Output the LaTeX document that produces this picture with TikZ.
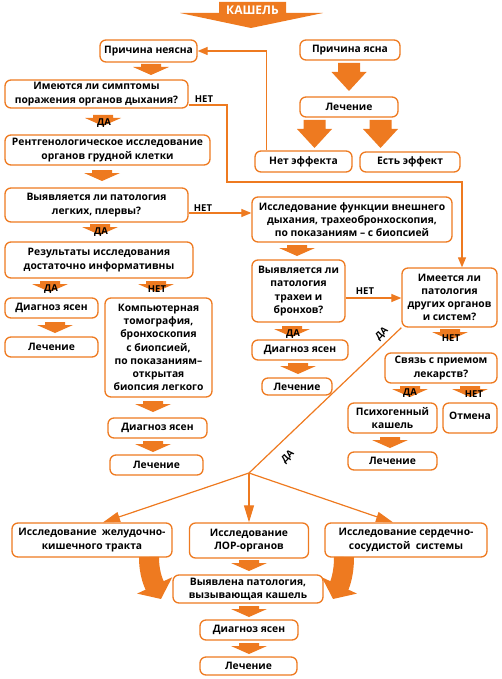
\documentclass[tikz,border=0pt]{standalone}
\usepackage{fontspec}
\setmainfont{Open Sans}
\usetikzlibrary{arrows.meta}

\definecolor{kashorange}{RGB}{238,122,32}
\tikzset{
  box/.style={draw=kashorange, line width=1.3pt, rounded corners=6pt, fill=white, align=center, inner sep=0pt, font=\bfseries\fontsize{10.3}{13.2}\selectfont},
  conn/.style={draw=kashorange, line width=1.2pt, -{Triangle[length=10pt,width=8pt]}},
  bigconn/.style={draw=kashorange, line width=1.2pt, -{Triangle[length=17pt,width=10pt]}},
  plain/.style={draw=kashorange, line width=1.2pt},
  lbl/.style={font=\bfseries\fontsize{9.5}{11}\selectfont, inner sep=0pt},
  curvarr/.style={draw=kashorange, line width=20pt, -{Triangle[length=15pt,width=38pt]}},
}
% short orange arrows between boxes
\newcommand{\smallarr}[2]{\fill[kashorange] (#1-10,#2) -- (#1+10,#2) -- (#1+10,#2+3) -- (#1+18,#2+3) -- (#1,#2+11) -- (#1-18,#2+3) -- (#1-10,#2+3) -- cycle;}
\newcommand{\bigarr}[2]{\fill[kashorange] (#1-11,#2) -- (#1+11,#2) -- (#1+11,#2+9) -- (#1+17.5,#2+9) -- (#1,#2+28) -- (#1-17.5,#2+9) -- (#1-11,#2+9) -- cycle;}

\begin{document}
\begin{tikzpicture}[x=1pt,y=-1pt]
\useasboundingbox (0,0) rectangle (501,679);

% title
\fill[kashorange] (180,13) -- (219,13) -- (219,2) -- (286,2) -- (286,13) -- (323,13) -- (251,28) -- cycle;
\node[font=\bfseries\fontsize{12}{14}\selectfont, text=white, inner sep=0pt] (kashel) at (252.5,10) {КАШЕЛЬ};

% top part
\node[box, minimum width=97, minimum height=22] (neyasna) at (148.5,51) {Причина неясна};
\node[box, minimum width=100, minimum height=20] (yasna) at (350,50) {Причина ясна};
\node[box, minimum width=98, minimum height=20] (lech0) at (349,107) {Лечение};
\node[box, minimum width=97, minimum height=21] (neteff) at (303.5,161.5) {Нет эффекта};
\node[box, minimum width=100, minimum height=20] (esteff) at (410,162) {Есть эффект};
\bigarr{349}{63}
\bigarr{314.5}{120}
\bigarr{380.5}{120}

% left column
\node[box, minimum width=183, minimum height=28] (simpt) at (96.5,94) {Имеются ли симптомы\\поражения органов дыхания?};
\node[box, minimum width=205, minimum height=30] (rentg) at (107.5,150) {Рентгенологическое исследование\\органов грудной клетки};
\node[box, minimum width=183, minimum height=34] (legk) at (96.5,205) {Выявляется ли патология\\легких, плервы?};
\node[box, minimum width=188, minimum height=36] (rezult) at (99,260) {Результаты исследования\\достаточно информативны};
\node[box, minimum width=93, minimum height=20] (diag1) at (51.5,308) {Диагноз ясен};
\node[box, minimum width=93, minimum height=20] (lech1) at (51.5,347) {Лечение};
\node[box, minimum width=107, minimum height=99] (kt) at (158.5,347.5) {Компьютерная\\томография,\\бронхоскопия\\с биопсией,\\по показаниям–\\открытая\\биопсия легкого};
\node[box, minimum width=99, minimum height=20] (diag2) at (157.5,428) {Диагноз ясен};
\node[box, minimum width=93, minimum height=20] (lech2) at (156.5,465) {Лечение};
\smallarr{151}{64}
\smallarr{103}{115}
\node[lbl] (da1) at (104,123) {ДА};
\smallarr{102}{170}
\smallarr{100}{224}
\node[lbl] (da2) at (101,232) {ДА};
\smallarr{50}{281}
\node[lbl] (da3) at (51,289) {ДА};
\smallarr{156}{281}
\node[lbl] (net3) at (157,289) {НЕТ};
\smallarr{55}{322}
\smallarr{153}{401}
\smallarr{153}{441}

% middle column
\node[box, minimum width=200, minimum height=45] (fvd) at (352,219.5) {Исследование функции внешнего\\дыхания, трахеобронхоскопия,\\по показаниям – с биопсией};
\node[box, minimum width=93, minimum height=62] (trah) at (298.5,291) {Выявляется ли\\патология\\трахеи и\\бронхов?};
\node[box, minimum width=96, minimum height=20] (diag3) at (300,350) {Диагноз ясен};
\node[box, minimum width=70, minimum height=17] (lech3) at (297,386.5) {Лечение};
\smallarr{297}{245}
\smallarr{292}{326}
\node[lbl] (da4) at (293,334) {ДА};
\smallarr{298}{363}

% right column
\node[box, minimum width=95, minimum height=59] (drug) at (449.5,297.5) {Имеется ли\\патология\\других органов\\и систем?};
\node[box, minimum width=112, minimum height=30] (svyaz) at (441,368) {Связь с приемом\\лекарств?};
\node[box, minimum width=89, minimum height=30] (psih) at (392.5,418) {Психогенный\\кашель};
\node[box, minimum width=54, minimum height=30] (otmena) at (470,418) {\raisebox{5pt}{Отмена}};
\node[box, minimum width=89, minimum height=18] (lech4) at (392.5,461) {Лечение};
\smallarr{450}{329}
\node[lbl] (net5) at (451,338) {НЕТ};
\smallarr{410}{386}
\node[lbl] (da6) at (410,393) {ДА};
\smallarr{470}{386}
\node[lbl] (net6) at (474,394) {НЕТ};
\smallarr{390}{437}

% bottom part
\node[box, minimum width=160, minimum height=34] (zhkt) at (92,540) {Исследование~~желудочно-\\кишечного тракта};
\node[box, minimum width=119, minimum height=35] (lor) at (249,540.5) {Исследование\\ЛОР-органов};
\node[box, minimum width=162, minimum height=34] (ssc) at (406,540) {Исследование сердечно-\\сосудистой~~системы};
\node[box, minimum width=150, minimum height=28] (vyyav) at (248,589) {Выявлена патология,\\вызывающая кашель};
\node[box, minimum width=98, minimum height=20] (diag4) at (249,630) {Диагноз ясен};
\node[box, minimum width=97, minimum height=18] (lech5) at (248.5,666) {Лечение};
\smallarr{249}{560}
\smallarr{249}{606}
\smallarr{249}{643}
\draw[curvarr] (149,557) to[out=-90,in=115] (161,599);
\draw[curvarr] (344,557) to[out=-90,in=65] (333,599);

% connectors
\draw[conn] ([xshift=12pt]neteff.north west) |- (neyasna.east);
\coordinate (bend1) at (227,182);
\draw[conn] ([yshift=-11pt]simpt.east) -| (bend1) -| ([xshift=12.5pt]drug.north);
\node[lbl] (net1) at (204,99) {НЕТ};
\draw[conn] ([yshift=-8pt]legk.east) -- ([yshift=-8pt]legk.east -| fvd.west);
\node[lbl] (net2) at (203,208) {НЕТ};
\draw[conn] ([yshift=-7pt]trah.east) -- ([yshift=-7pt]trah.east -| drug.west);
\node[lbl] (net4) at (365,291) {НЕТ};

\coordinate (junc) at (249,473);
\draw[plain] (drug.south west) -- (junc);
\node[lbl, rotate=45] (da5) at (382,334) {ДА};
\node[lbl, rotate=45] (da7) at (288,457) {ДА};
\draw[bigconn] (junc) -- ([xshift=11pt]zhkt.north);
\draw[bigconn] (junc) -- (lor.north);
\draw[bigconn] (junc) -- ([xshift=-13pt]ssc.north);
\end{tikzpicture}
\end{document}
